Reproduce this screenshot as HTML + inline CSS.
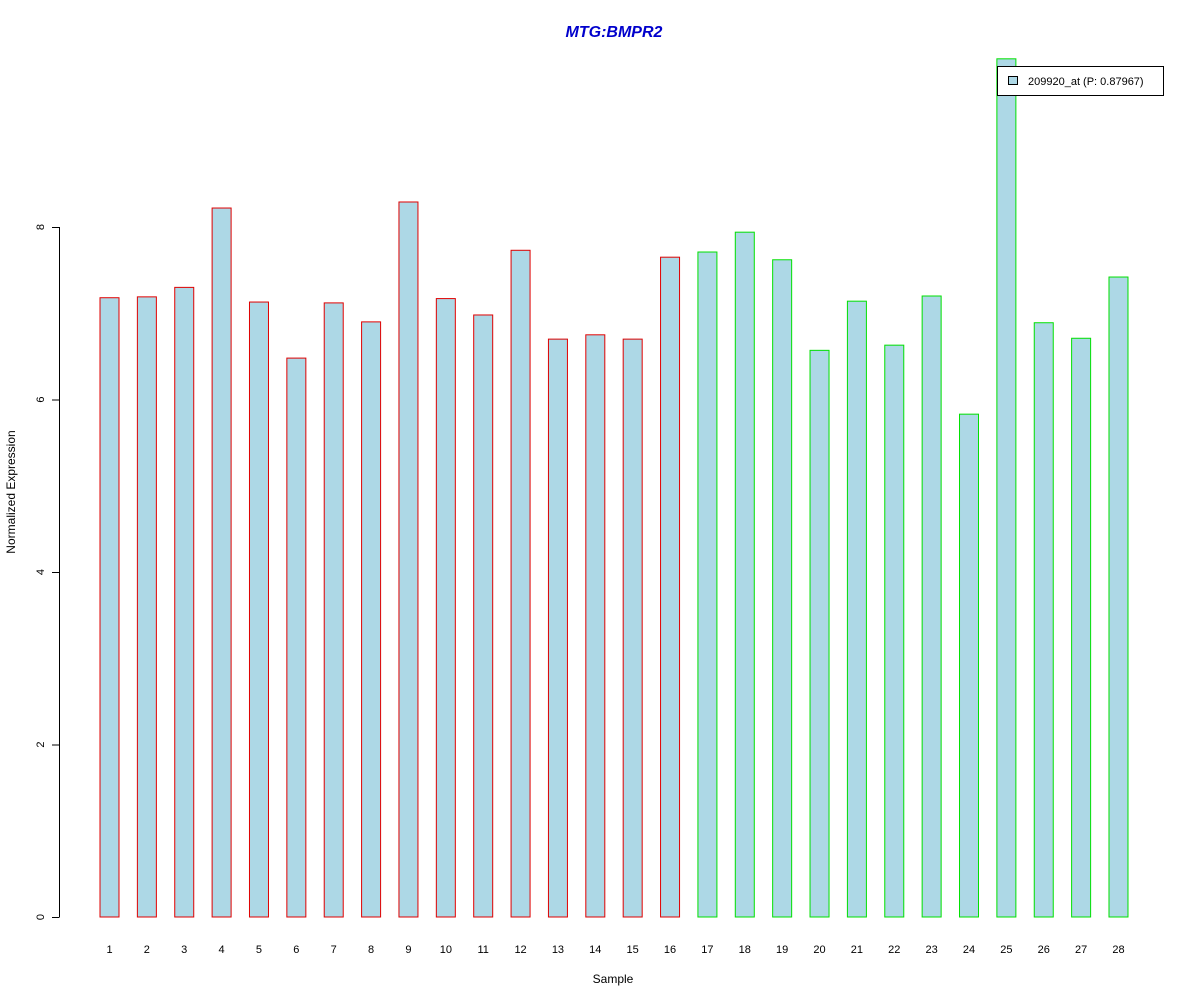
<!DOCTYPE html>
<html><head><meta charset="utf-8"><style>body{margin:0;background:#fff}svg{display:block;font-family:"Liberation Sans",sans-serif}</style></head>
<body>
<svg id="chart" width="1200" height="1000" xmlns="http://www.w3.org/2000/svg">
<text x="614" y="37" text-anchor="middle" font-size="16" font-weight="bold" font-style="italic" fill="#0000cc">MTG:BMPR2</text>
<text x="613" y="983" text-anchor="middle" font-size="12">Sample</text>
<text transform="translate(15,492) rotate(-90)" text-anchor="middle" font-size="12">Normalized Expression</text>
<g id="bars"></g><g id="yaxis"></g><g id="xlabels"></g>
<g>
<rect x="997.5" y="66.5" width="166" height="29" fill="#fff" stroke="#000"/>
<rect x="1008.5" y="76.5" width="9" height="8" fill="#add8e6" stroke="#000"/>
<text x="1028" y="85" font-size="11">209920_at (P: 0.87967)</text>
</g>
</svg>
<script>
const samples=[1,2,3,4,5,6,7,8,9,10,11,12,13,14,15,16,17,18,19,20,21,22,23,24,25,26,27,28];
const values=[7.18,7.19,7.30,8.22,7.13,6.48,7.12,6.90,8.29,7.17,6.98,7.73,6.70,6.75,6.70,7.65,7.71,7.94,7.62,6.57,7.14,6.63,7.20,5.83,9.95,6.89,6.71,7.42];
const groups=[1,1,1,1,1,1,1,1,1,1,1,1,1,1,1,1,2,2,2,2,2,2,2,2,2,2,2,2];
const yTicks=[0,2,4,6,8];
const NS="http://www.w3.org/2000/svg";
const y=v=>917-v*86.25;
const x=i=>109.5+i*37.37;
function mk(t,a,p){const e=document.createElementNS(NS,t);for(const k in a)e.setAttribute(k,a[k]);p.appendChild(e);return e;}
const bars=document.getElementById('bars');
values.forEach((v,i)=>{const r=mk('rect',{x:x(i)-9.5,y:y(v),width:19,height:y(0)-y(v),fill:'#add8e6',stroke:groups[i]==1?'#e00000':'#00e000'},bars);

});
const xl=document.getElementById('xlabels');
samples.forEach((s,i)=>{const t=mk('text',{x:x(i),y:953,'text-anchor':'middle','font-size':11},xl);t.textContent=s;

});
const ya=document.getElementById('yaxis');
const ln=mk('line',{x1:59.5,x2:59.5,y1:y(0),y2:y(8),stroke:'#000'},ya);


yTicks.forEach(v=>{mk('line',{x1:52,x2:59.5,y1:y(v)+0.5,y2:y(v)+0.5,stroke:'#000'},ya);
const t=mk('text',{transform:`translate(44,${y(v)}) rotate(-90)`,'text-anchor':'middle','font-size':11},ya);t.textContent=v;

});
</script>
</body></html>
